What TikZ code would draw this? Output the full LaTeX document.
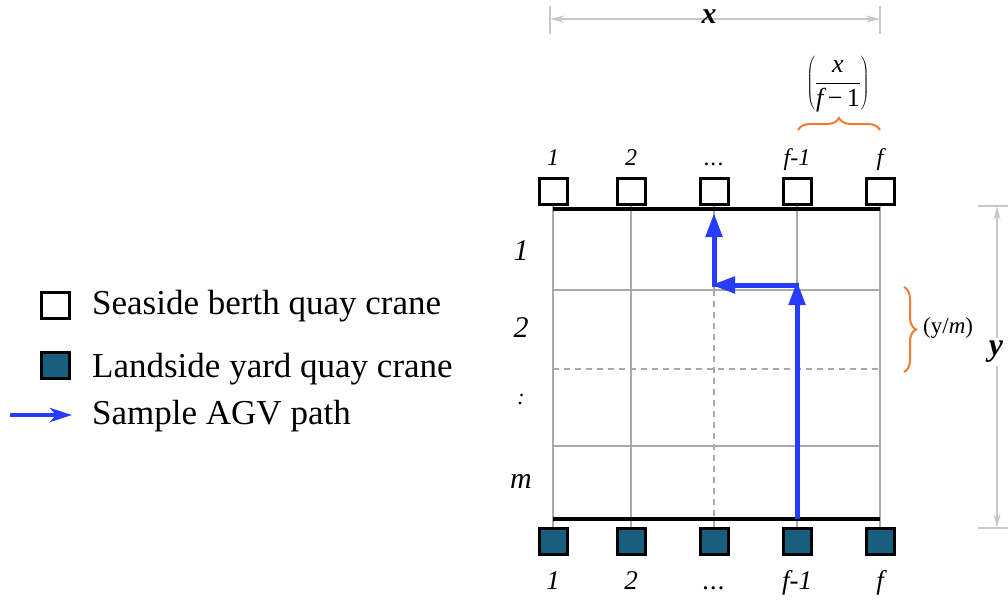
\documentclass[tikz,border=0pt]{standalone}
\usepackage{fontspec}
\setmainfont{Liberation Serif}
\usetikzlibrary{arrows.meta,decorations.pathreplacing}
\definecolor{teal}{RGB}{24,94,126}
\definecolor{agv}{RGB}{40,60,255}
\definecolor{gridc}{RGB}{170,170,170}
\definecolor{dimc}{RGB}{200,200,200}
\definecolor{brc}{RGB}{237,125,49}
\newcommand{\mydots}{.\kern1pt.\kern1pt.}
\tikzset{
  seabox/.style={draw=black,line width=3pt,fill=white,minimum width=28pt,minimum height=26pt,inner sep=0pt},
  landbox/.style={seabox,fill=teal},
  gridline/.style={draw=gridc,line width=1.6pt},
  dashline/.style={gridline,dash pattern=on 6pt off 5pt},
  thickline/.style={draw=black,line width=3.5pt},
  agvarrow/.style={draw=agv,line width=5pt,-{Triangle[length=24pt,width=16pt]}},
  dimline/.style={draw=dimc,line width=1.6pt},
  dimarrow/.style={dimline,{Stealth[length=14pt,width=7pt]}-{Stealth[length=14pt,width=7pt]}},
  collab/.style={font=\fontsize{24}{26}\selectfont\itshape,anchor=base,inner sep=0pt},
  botlab/.style={font=\fontsize{27}{29}\selectfont\itshape,anchor=base,inner sep=0pt},
  rowlab/.style={font=\fontsize{30}{32}\selectfont\itshape,anchor=base,inner sep=0pt},
  legtext/.style={font=\fontsize{35}{38}\selectfont,anchor=base west,inner sep=0pt},
  bracestyle/.style={draw=brc,line width=2pt,decorate,decoration={brace,amplitude=12pt}}
}
\begin{document}
\begin{tikzpicture}[x=1pt,y=-1pt]
\useasboundingbox (0,0) rectangle (1008,599);
% column x positions
\foreach \i/\xx/\t in {1/553/1,2/631/2,3/714/{\mydots},4/797/f-1,5/880/f}{
  \node[seabox] (s\i) at (\xx,191) {};
  \node[landbox] (l\i) at (\xx,541) {};
  \node[collab] (ct\i) at (\xx,165) {\t};
  \node[botlab] (cb\i) at (\xx,589) {\t};
}
% grid lines
\coordinate (tl) at (553,209);
\coordinate (tr) at (880,209);
\coordinate (bl) at (553,519);
\coordinate (br) at (880,519);
\draw[gridline] (s1.south) -- (l1.north);
\draw[gridline] (s2.south) -- (l2.north);
\draw[gridline] (s3.south) -- (714,290);
\draw[dashline] (714,290) -- (l3.north);
\draw[gridline] (s4.south) -- (l4.north);
\draw[gridline] (s5.south) -- (l5.north);
\draw[gridline] (553,290) -- (880,290);
\draw[dashline] (553,369) -- (880,369);
\draw[gridline] (553,446) -- (880,446);
\draw[thickline] (tl) -- (tr);
\draw[thickline] (bl) -- (br);
% row labels
\node[rowlab] (r1) at (521,260) {1};
\node[rowlab] (r2) at (521,337) {2};
\node[rowlab] (r3) at (521,404) {\fontsize{22}{24}\selectfont :};
\node[rowlab] (rm) at (521,488) {m};
% AGV path
\coordinate (p0) at (797,519);
\coordinate (p2) at (711,285);
\coordinate (p4) at (714,213);
\draw[agvarrow] (p0) -- (797,281);
\draw[agvarrow] (799,285) -- (p2);
\draw[agvarrow] (714,287) -- (p4);
% x dimension
\coordinate (xa) at (550,19);
\coordinate (xb) at (880,19);
\draw[dimline] (550,6) -- (550,34);
\draw[dimline] (880,6) -- (880,34);
\draw[dimarrow] (xa) -- (xb);
\node[font=\fontsize{30}{32}\selectfont\bfseries\itshape,inner sep=0pt] (xl) at (709,17) {x};
% fraction + brace
\draw[bracestyle] (798,130) -- (880,130);
\node[font=\fontsize{26}{28}\selectfont,inner sep=0pt] (fr) at (838,84) {$\displaystyle\left(\frac{\mbox{\itshape x}}{\mbox{\itshape f\,\upshape −\,1}}\right)$};
% y dimension
\draw[dimline] (978,206) -- (1010,206);
\draw[dimline] (978,528) -- (1010,528);
\coordinate (ya) at (997,206);
\coordinate (yb) at (997,528);
\draw[dimarrow] (ya) -- (yb);
\node[font=\fontsize{32}{34}\selectfont\bfseries\itshape,fill=white,inner sep=3pt] (yl) at (996,352) {y};
% y/m brace
\draw[bracestyle] (904,287) -- (904,372);
\node[font=\fontsize{23}{25}\selectfont,anchor=west,inner sep=0pt] (ym) at (923,328) {(y/\textit{m})};
% legend
\node[seabox] (lg1) at (55,305) {};
\node[landbox] (lg2) at (55,365) {};
\coordinate (la) at (10,415);
\coordinate (lb) at (72,415);
\draw[draw=agv,line width=4pt,-{Stealth[length=22pt,width=14pt,inset=6pt]}] (la) -- (lb);
\node[legtext] (t1) at (92,314) {Seaside berth quay crane};
\node[legtext] (t2) at (92,377) {Landside yard quay crane};
\node[legtext] (t3) at (92,424) {Sample AGV path};
\end{tikzpicture}
\end{document}
